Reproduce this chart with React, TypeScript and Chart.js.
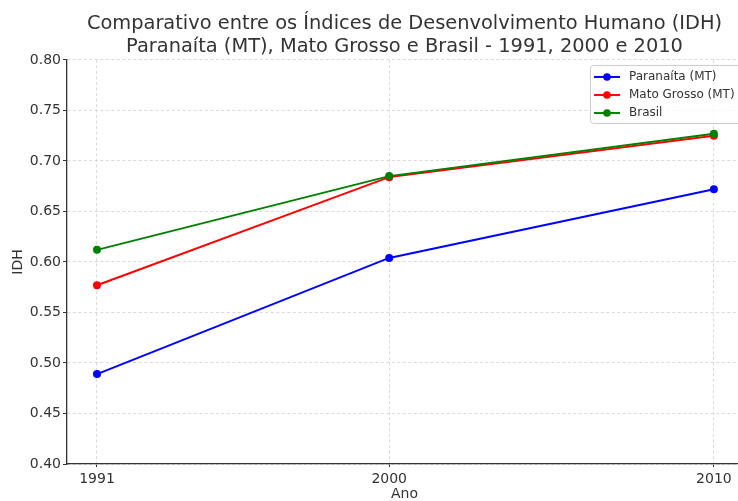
import React, { useEffect, useRef } from 'react';
import { Chart, registerables } from 'chart.js';

Chart.register(...registerables);

const years = [1991, 2000, 2010];
const paranaita = [0.489, 0.604, 0.672];
const matoGrosso = [0.577, 0.684, 0.725];
const brasil = [0.612, 0.685, 0.727];
const seriesLabels = ['Paranaíta (MT)', 'Mato Grosso (MT)', 'Brasil'];
const seriesColors = ['#0000ff', '#ff0000', '#008000'];
const titleLines = [
  'Comparativo entre os Índices de Desenvolvimento Humano (IDH)',
  'Paranaíta (MT), Mato Grosso e Brasil - 1991, 2000 e 2010',
];
const yMin = 0.4;
const yMax = 0.8;
const yStep = 0.05;
const xMin = 1990.076;
const xMax = 2010.866;

const FONT = 'DejaVu Sans';
const TEXT = '#333333';

const boxLegend = {
  id: 'boxLegend',
  afterDatasetsDraw(chart: any) {
    const ctx = chart.ctx;
    const area = chart.chartArea;
    const w = 150.5;
    const h = 58;
    const x0 = Math.round(area.right - 2 - w) + 0.5;
    const y0 = area.top + 5.5;
    const r = 3;
    ctx.save();
    ctx.beginPath();
    ctx.moveTo(x0 + r, y0);
    ctx.lineTo(x0 + w - r, y0);
    ctx.quadraticCurveTo(x0 + w, y0, x0 + w, y0 + r);
    ctx.lineTo(x0 + w, y0 + h - r);
    ctx.quadraticCurveTo(x0 + w, y0 + h, x0 + w - r, y0 + h);
    ctx.lineTo(x0 + r, y0 + h);
    ctx.quadraticCurveTo(x0, y0 + h, x0, y0 + h - r);
    ctx.lineTo(x0, y0 + r);
    ctx.quadraticCurveTo(x0, y0, x0 + r, y0);
    ctx.closePath();
    ctx.fillStyle = 'rgba(255,255,255,0.8)';
    ctx.fill();
    ctx.strokeStyle = '#cccccc';
    ctx.lineWidth = 1;
    ctx.stroke();
    chart.data.datasets.forEach((ds: any, i: number) => {
      const y = y0 + 11.5 + i * 18;
      ctx.strokeStyle = ds.borderColor;
      ctx.lineWidth = 2;
      ctx.beginPath();
      ctx.moveTo(x0 + 3.5, y);
      ctx.lineTo(x0 + 29.5, y);
      ctx.stroke();
      ctx.fillStyle = ds.borderColor;
      ctx.beginPath();
      ctx.arc(x0 + 16.5, y, 3.8, 0, Math.PI * 2);
      ctx.fill();
      ctx.fillStyle = TEXT;
      ctx.font = `12px "${FONT}"`;
      ctx.textBaseline = 'middle';
      ctx.textAlign = 'left';
      ctx.fillText(ds.label, x0 + 38.5, y);
    });
    ctx.restore();
  },
};

export default function App() {
  const ref = useRef<HTMLCanvasElement>(null);
  useEffect(() => {
    document.body.style.margin = '0';
    const values = [paranaita, matoGrosso, brasil];
    const chart = new Chart(ref.current as HTMLCanvasElement, {
      type: 'line',
      data: {
        datasets: values.map((vals, i) => ({
          label: seriesLabels[i],
          data: years.map((yr, j) => ({ x: yr, y: vals[j] })),
          borderColor: seriesColors[i],
          backgroundColor: seriesColors[i],
          borderWidth: 2,
          pointRadius: 4,
          pointBorderWidth: 0,
          pointHoverRadius: 4,
          tension: 0,
          order: 3 - i,
        })),
      },
      options: {
        responsive: false,
        animation: false,
        events: [],
        layout: { padding: 0 },
        plugins: {
          legend: { display: false },
          tooltip: { enabled: false },
          title: {
            display: true,
            fullSize: false,
            text: titleLines,
            color: TEXT,
            font: { family: FONT, size: 19.4, weight: 'normal', lineHeight: 1.2 },
            padding: { top: 12, bottom: 1.4 },
          },
        },
        scales: {
          x: {
            type: 'linear',
            min: xMin,
            max: xMax,
            afterBuildTicks: (scale: any) => {
              scale.ticks = years.map((v) => ({ value: v }));
            },
            afterFit: (scale: any) => {
              scale.height = 37;
            },
            ticks: {
              color: TEXT,
              font: { family: FONT, size: 14 },
              padding: 4,
              maxRotation: 0,
              autoSkip: false,
              callback: (v: any) => String(v),
            },
            grid: {
              color: '#d0d0d0',
              lineWidth: 0.8,
              drawTicks: true,
              tickLength: 3,
              tickColor: '#333333',
              tickWidth: 1,
              tickBorderDash: [],
            },
            border: { display: true, color: '#333333', width: 1.3, dash: [3, 2.5] },
            title: {
              display: true,
              text: 'Ano',
              color: TEXT,
              font: { family: FONT, size: 14, lineHeight: 1.0 },
              padding: { top: 0, bottom: 0 },
            },
          },
          y: {
            min: yMin,
            max: yMax,
            afterFit: (scale: any) => {
              scale.width = 67;
            },
            ticks: {
              stepSize: yStep,
              color: TEXT,
              font: { family: FONT, size: 14 },
              padding: 2,
              callback: (v: any) => Number(v).toFixed(2),
            },
            grid: {
              color: '#d0d0d0',
              lineWidth: 0.8,
              drawTicks: true,
              tickLength: 4,
              tickColor: '#333333',
              tickWidth: 1,
              tickBorderDash: [],
            },
            border: { display: true, color: '#333333', width: 1.3, dash: [3, 2.5] },
            title: {
              display: true,
              text: 'IDH',
              color: TEXT,
              font: { family: FONT, size: 14 },
              padding: { top: 9.5, bottom: 0 },
            },
          },
        },
      },
      plugins: [boxLegend],
    } as any);
    return () => chart.destroy();
  }, []);
  return (
    <div style={{ width: 738, height: 501, overflow: 'hidden' }}>
      <canvas ref={ref} width={746} height={501} style={{ display: 'block' }} />
    </div>
  );
}
